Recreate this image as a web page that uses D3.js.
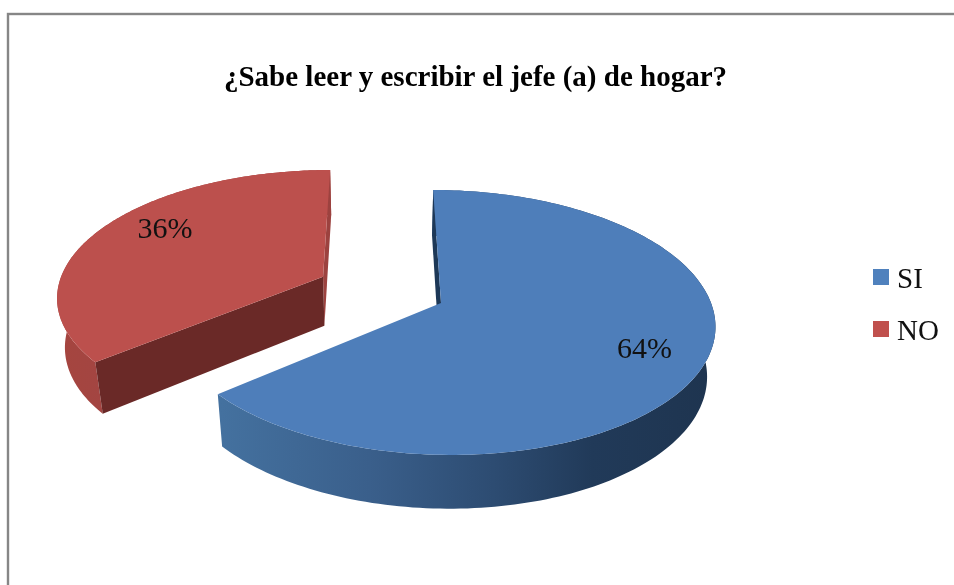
<!DOCTYPE html>
<html><head><meta charset="utf-8">
<script src="https://cdn.jsdelivr.net/npm/d3@7"></script>
<style>html,body{margin:0;padding:0;background:#fff}svg{display:block;filter:blur(0.45px)}</style>
</head><body><svg id="c" width="954" height="585"></svg>
<script>
const categories = ["SI", "NO"];
const values = [64, 36];
const labels = ["64%", "36%"];
const titleText = "¿Sabe leer y escribir el jefe (a) de hogar?";

const svg = d3.select("#c");
const serif = "'Liberation Serif','Times New Roman',serif";

// perspective projection of the pie's plane; z = 0 top face, z = 1 bottom face
const VX = 380, CY = 303, KX = 270, KY = 129.6, P = 0.147, Q = 0.025, H = 51, X0 = 0.226;
function project(u, v, z) {
  const w = 1 - P * v + Q * z;
  return [VX + KX * (u + X0) / w, CY + (KY * v + H * z) / w];
}
const pie = d3.pie().sort(null).value(d => d)(values);
const explode = [0, 0.49];
const slices = pie.map((p, i) => {
  const mid = (p.startAngle + p.endAngle) / 2;
  return {
    a0: p.startAngle, a1: p.endAngle, mid,
    ou: Math.sin(mid) * explode[i], ov: -Math.cos(mid) * explode[i]
  };
});
const pt = (s, a, r, z) => project(s.ou + r * Math.sin(a), s.ov - r * Math.cos(a), z);
const arcPts = (s, a0, a1, z) => d3.range(0, 181).map(k => pt(s, a0 + (a1 - a0) * k / 180, 1, z));
const line = d3.line().curve(d3.curveLinear);

const defs = svg.append("defs");
const gradBlue = defs.append("linearGradient").attr("id", "gb").attr("gradientUnits", "userSpaceOnUse")
  .attr("x1", d3.scaleLinear().domain([0, 1]).range([221, 716])(0)).attr("x2", 716).attr("y1", 0).attr("y2", 0);
[[0, "#44719f"], [0.3, "#3a5f8b"], [0.55, "#2d4c72"], [0.75, "#213a59"], [1, "#1e344f"]]
  .forEach(d => gradBlue.append("stop").attr("offset", d[0]).attr("stop-color", d[1]));
const gradRed = defs.append("linearGradient").attr("id", "gr").attr("gradientUnits", "userSpaceOnUse")
  .attr("x1", 60).attr("x2", 105).attr("y1", 0).attr("y2", 0);
[[0, "#a5453f"], [1, "#a34542"]].forEach(d => gradRed.append("stop").attr("offset", d[0]).attr("stop-color", d[1]));

const style = [
  {top: "#4e7eba", wall: "url(#gb)", faceA: "#1d3857", faceB: "#1d3857"},
  {top: "#bc504d", wall: "url(#gr)", faceA: "#9c423f", faceB: "#6a2927"}
];

// back-to-front: red first, then blue
[1, 0].forEach(i => {
  const s = slices[i], st = style[i];
  const g = svg.append("g");
  const apexT = pt(s, 0, 0, 0), apexB = pt(s, 0, 0, 1);
  const wall = arcPts(s, s.a0, s.a1, 0).concat(arcPts(s, s.a0, s.a1, 1).reverse());
  g.append("path").attr("d", line(wall) + "Z").attr("fill", st.wall);
  // radial wall at the slice's start angle (sliver)
  g.append("path").attr("d", line([apexT, pt(s, i ? s.a1 : s.a0, 1, 0), pt(s, i ? s.a1 : s.a0, 1, 1), apexB]) + "Z").attr("fill", st.faceA);
  // radial wall at the other angle
  if (i === 1) g.append("path").attr("d", line([apexT, pt(s, s.a0, 1, 0), pt(s, s.a0, 1, 1), apexB]) + "Z").attr("fill", st.faceB);
  const top = [apexT].concat(arcPts(s, s.a0, s.a1, 0));
  g.append("path").attr("d", line(top) + "Z").attr("fill", st.top);
});

// data labels
const nudge = [[0, 0], [16, -10]];
slices.forEach((s, i) => {
  const [x, y] = pt(s, s.mid, 0.78, 0);
  svg.append("text").attr("x", x + nudge[i][0]).attr("y", y + nudge[i][1] + 10)
    .attr("text-anchor", "middle").attr("font-family", serif).attr("font-size", 30)
    .attr("fill", "#111").text(labels[i]);
});

// chart frame
svg.append("rect").attr("x", 8).attr("y", 14).attr("width", 1000).attr("height", 1000)
  .attr("fill", "none").attr("stroke", "#868686").attr("stroke-width", 2.4);

// title
svg.append("text").attr("x", 475.5).attr("y", 86).attr("text-anchor", "middle")
  .attr("font-family", serif).attr("font-weight", "bold").attr("font-size", 29)
  .attr("fill", "#000").text(titleText);

// legend
const legendY = d3.scalePoint().domain(categories).range([277, 329]);
categories.forEach((c, i) => {
  svg.append("rect").attr("x", 873).attr("y", legendY(c) - 8).attr("width", 16).attr("height", 16)
    .attr("fill", i ? "#c0504d" : "#4f81bd");
  svg.append("text").attr("x", 897).attr("y", legendY(c) + 11)
    .attr("font-family", serif).attr("font-size", 29).attr("fill", "#111").text(c);
});
</script></body></html>
